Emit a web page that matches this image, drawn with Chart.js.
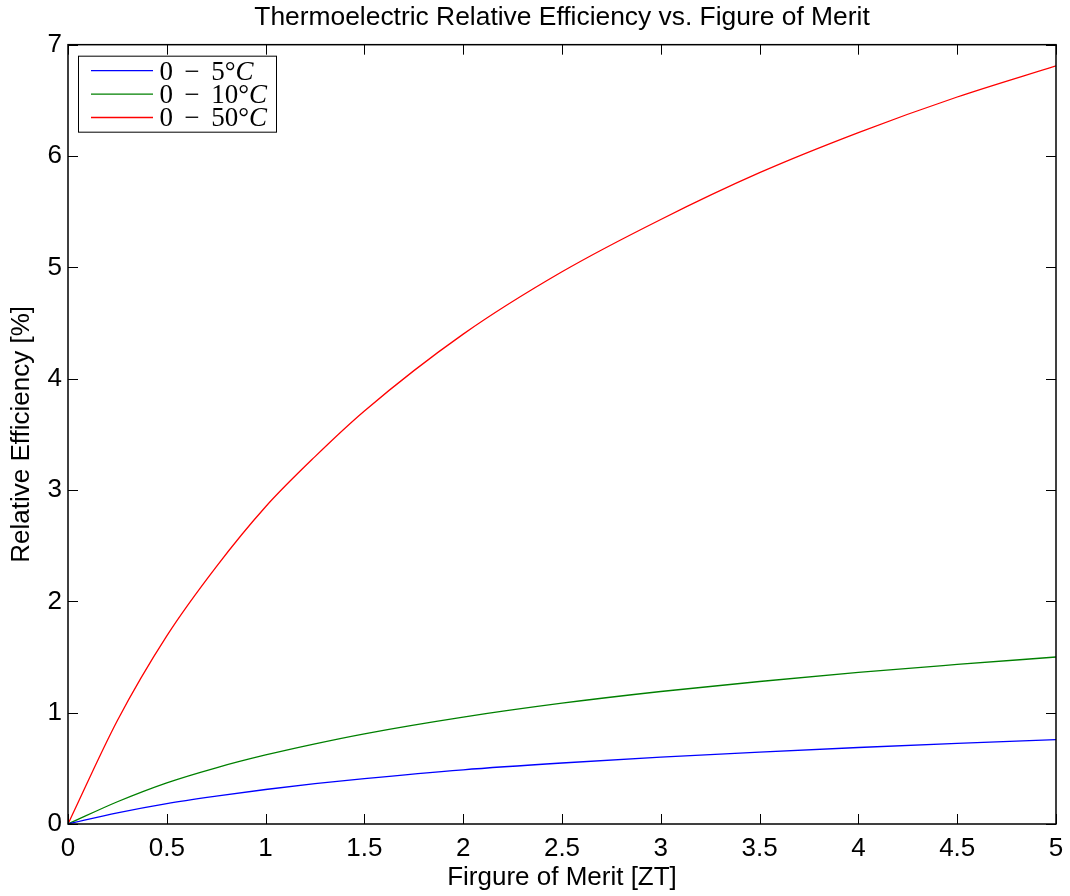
<!DOCTYPE html>
<html>
<head>
<meta charset="utf-8">
<title>Thermoelectric Relative Efficiency vs. Figure of Merit</title>
<script src="https://cdn.jsdelivr.net/npm/chart.js@4.4.1/dist/chart.umd.min.js"></script>
<style>
  html, body { margin: 0; padding: 0; background: #fff; }
  #wrap { width: 1070px; height: 896px; position: relative; }
</style>
</head>
<body>
<div id="wrap"><canvas id="meritChart"></canvas></div>
<script>
// values (relative efficiency in %)
const zt = [0, 0.25, 0.5, 0.75, 1, 1.25, 1.5, 2, 2.5, 3, 3.5, 4, 4.5, 5];
const eff5 = [0, 0.10, 0.183, 0.25, 0.31, 0.362, 0.408, 0.487, 0.548, 0.600, 0.646, 0.687, 0.724, 0.758];
const eff10 = [0, 0.20, 0.37, 0.505, 0.62, 0.72, 0.81, 0.96, 1.085, 1.19, 1.28, 1.362, 1.433, 1.50];
const eff50 = [0, 0.93, 1.69, 2.31, 2.85, 3.30, 3.71, 4.40, 4.96, 5.43, 5.85, 6.21, 6.53, 6.81];
const seriesLabels = ['0 − 5°C', '0 − 10°C', '0 − 50°C'];
const xTicks = [0, 0.5, 1, 1.5, 2, 2.5, 3, 3.5, 4, 4.5, 5];
const yTicks = [0, 1, 2, 3, 4, 5, 6, 7];

Chart.defaults.font.family = '"Liberation Sans", Arial, sans-serif';
Chart.defaults.font.size = 26;
Chart.defaults.color = '#000';

const toPoints = vals => zt.map((z, i) => ({ x: z, y: vals[i] }));

// matlab style: box round the axes, ticks pointing inward, legend box top-left
const frameAndLegend = {
    id: 'frameAndLegend',
    afterDatasetsDraw(chart) {
        const { ctx, chartArea: a, scales: { x, y } } = chart;
        ctx.save();
        ctx.strokeStyle = '#000';
        ctx.lineWidth = 1;
        ctx.beginPath();
        x.ticks.forEach(t => {
            const px = Math.round(x.getPixelForValue(t.value)) + 0.5;
            ctx.moveTo(px, a.bottom); ctx.lineTo(px, a.bottom - 10);
            ctx.moveTo(px, a.top); ctx.lineTo(px, a.top + 10);
        });
        y.ticks.forEach(t => {
            const py = Math.round(y.getPixelForValue(t.value)) + 0.5;
            ctx.moveTo(a.left, py); ctx.lineTo(a.left + 10, py);
            ctx.moveTo(a.right, py); ctx.lineTo(a.right - 10, py);
        });
        ctx.stroke();
        ctx.lineWidth = 1.5;
        ctx.strokeRect(a.left, a.top, a.right - a.left, a.bottom - a.top);

        // legend
        const lx = a.left + 10.5, ly = a.top + 11.5, lw = 198, lh = 76;
        ctx.fillStyle = '#fff';
        ctx.fillRect(lx, ly, lw, lh);
        ctx.lineWidth = 1;
        ctx.strokeRect(lx, ly, lw, lh);
        chart.data.datasets.forEach((ds, i) => {
            const ry = ly + 14.5 + i * 23.4;
            ctx.strokeStyle = ds.borderColor;
            ctx.lineWidth = 1.3;
            ctx.beginPath();
            ctx.moveTo(lx + 12.5, ry);
            ctx.lineTo(lx + 74.5, ry);
            ctx.stroke();

            const [lo, rest] = ds.label.split(' − ');
            const num = rest.slice(0, -1), unit = rest.slice(-1);
            const tx = lx + 81, base = ry + 9;
            ctx.fillStyle = '#000';
            ctx.textBaseline = 'alphabetic';
            ctx.font = '27px "Liberation Serif", serif';
            ctx.textAlign = 'left';
            ctx.fillText(lo, tx, base);
            ctx.textAlign = 'center';
            ctx.fillText('−', tx + 32.4, base);
            ctx.textAlign = 'left';
            ctx.fillText(num, tx + 51.7, base);
            const w = ctx.measureText(num).width;
            ctx.font = 'italic 27px "Liberation Serif", serif';
            ctx.fillText(unit, tx + 51.7 + w, base);
        });
        ctx.restore();
    }
};

const ctx = document.getElementById('meritChart').getContext('2d');
const meritChart = new Chart(ctx, {
    type: 'scatter',
    data: {
        datasets: [
            { label: seriesLabels[0], data: toPoints(eff5), borderColor: '#0000ff' },
            { label: seriesLabels[1], data: toPoints(eff10), borderColor: '#008000' },
            { label: seriesLabels[2], data: toPoints(eff50), borderColor: '#ff0000' }
        ]
    },
    options: {
        responsive: true,
        maintainAspectRatio: false,
        animation: false,
        layout: { padding: { left: 0, right: 14, top: 0, bottom: 0 } },
        datasets: {
            scatter: {
                showLine: true,
                pointRadius: 0,
                borderWidth: 1.3,
                fill: false,
                cubicInterpolationMode: 'monotone'
            }
        },
        plugins: {
            legend: { display: false },
            tooltip: { enabled: false },
            title: {
                display: true,
                text: 'Thermoelectric Relative Efficiency vs. Figure of Merit',
                fullSize: false,
                font: { size: 26.4, weight: 'normal' },
                color: '#000',
                padding: { top: 2, bottom: 11 }
            }
        },
        scales: {
            x: {
                type: 'linear',
                min: 0,
                max: 5,
                grid: { display: false, drawTicks: false },
                border: { display: false },
                ticks: { padding: 9, color: '#000', callback: v => String(v) },
                afterBuildTicks: s => { s.ticks = xTicks.map(v => ({ value: v })); },
                afterFit: s => { s.height = 72; s.paddingLeft = 0; s.paddingRight = 0; },
                title: {
                    display: true,
                    text: 'Firgure of Merit [ZT]',
                    color: '#000',
                    padding: { top: 0, bottom: 3 }
                }
            },
            y: {
                type: 'linear',
                min: 0,
                max: 7,
                grid: { display: false, drawTicks: false },
                border: { display: false },
                ticks: { padding: 6, color: '#000', callback: v => String(v) },
                afterBuildTicks: s => { s.ticks = yTicks.map(v => ({ value: v })); },
                afterFit: s => { s.width = 68; s.paddingTop = 0; s.paddingBottom = 0; },
                title: {
                    display: true,
                    text: 'Relative Efficiency [%]',
                    color: '#000',
                    padding: { top: 6, bottom: 0 }
                }
            }
        }
    },
    plugins: [frameAndLegend]
});
</script>
</body>
</html>
